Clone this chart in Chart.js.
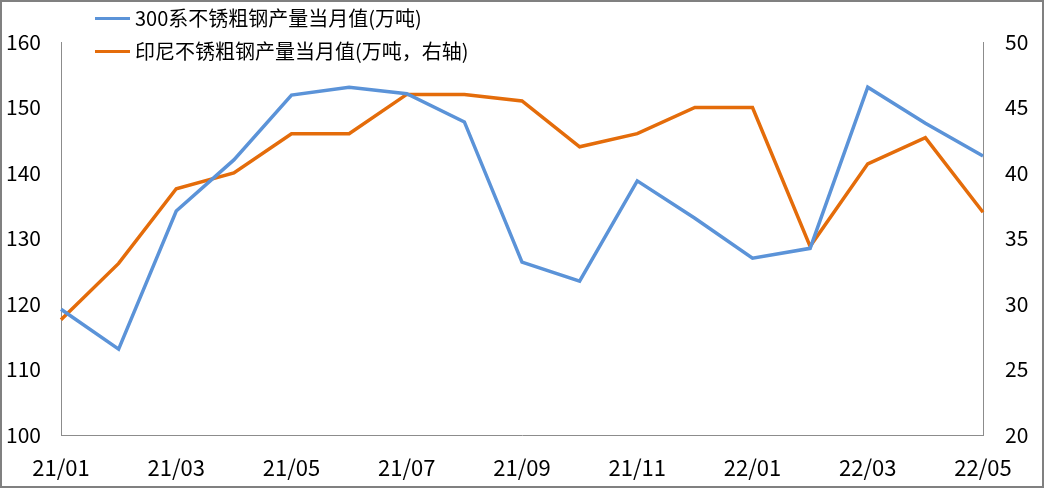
<!DOCTYPE html>
<html>
<head>
<meta charset="utf-8">
<script src="https://cdn.jsdelivr.net/npm/chart.js@4"></script>
<style>
  html, body { margin: 0; padding: 0; background: #fff; }
  #wrap { position: relative; width: 1044px; height: 488px; box-sizing: border-box; border: 2px solid #808080; background: #fff; }
  #c { position: absolute; left: 0; top: 0; }
  #legend { position: absolute; left: 93px; top: 0; font-family: "Noto Sans CJK SC", "Noto Sans", sans-serif; font-size: 20px; color: #000; }
  .item { position: absolute; white-space: nowrap; height: 30px; line-height: 30px; }
  .swatch { position: absolute; left: 0; top: 14px; width: 35px; height: 3px; }
  .txt { position: absolute; left: 40px; top: 0; }
</style>
</head>
<body>
<div id="wrap">
  <canvas id="c" width="1040" height="484"></canvas>
  <div id="legend"></div>
</div>
<script>
const categories = ["21/01","21/02","21/03","21/04","21/05","21/06","21/07","21/08","21/09","21/10","21/11","21/12","22/01","22/02","22/03","22/04","22/05"];
const series300Label = "300系不锈粗钢产量当月值(万吨)";
const series300 = [119.2, 113.1, 134.2, 142.0, 151.9, 153.1, 152.1, 147.8, 126.4, 123.5, 138.8, 133.1, 127.0, 128.5, 153.1, 147.6, 142.6];
const indonesiaLabel = "印尼不锈粗钢产量当月值(万吨，右轴)";
const indonesia = [28.8, 33.1, 38.8, 40.0, 43.0, 43.0, 46.0, 46.0, 45.5, 42.0, 43.0, 45.0, 45.0, 34.4, 40.7, 42.7, 37.0];
const leftTicks = [100, 110, 120, 130, 140, 150, 160];
const rightTicks = [20, 25, 30, 35, 40, 45, 50];

const blue = "#5B93D8";
const orange = "#E46C0A";
const axisColor = "#8c8c8c";
const fontFamily = '"Noto Sans CJK SC", "Noto Sans", sans-serif';

const datasets = [
  { label: series300Label, data: series300, borderColor: blue, backgroundColor: blue, yAxisID: "yL" },
  { label: indonesiaLabel, data: indonesia, borderColor: orange, backgroundColor: orange, yAxisID: "yR" }
];

// HTML legend built from the dataset labels
const legendEl = document.getElementById("legend");
datasets.forEach((ds, i) => {
  const it = document.createElement("div");
  it.className = "item";
  it.style.top = (i === 0 ? 1 : 34) + "px";
  const sw = document.createElement("div");
  sw.className = "swatch";
  sw.style.background = ds.borderColor;
  const tx = document.createElement("span");
  tx.className = "txt";
  tx.textContent = ds.label;
  it.appendChild(sw); it.appendChild(tx);
  legendEl.appendChild(it);
});

new Chart(document.getElementById("c"), {
  type: "line",
  data: {
    labels: categories,
    datasets: datasets.map(d => Object.assign({}, d, {
      borderWidth: 3.5, pointRadius: 0, pointHoverRadius: 0, tension: 0, fill: false
    }))
  },
  options: {
    responsive: false,
    animation: false,
    devicePixelRatio: 1,
    layout: { padding: { top: 40, left: 0, right: 0, bottom: 0 } },
    plugins: { legend: { display: false }, tooltip: { enabled: false } },
    scales: {
      x: {
        offset: false,
        grid: { display: false, drawTicks: false },
        border: { display: true, color: axisColor, width: 1 },
        ticks: {
          autoSkip: false, maxRotation: 0, minRotation: 0, padding: 19,
          color: "#000", font: { family: fontFamily, size: 22 },
          callback: function(v, i) { return i % 2 === 0 ? categories[i] : ""; }
        },
        afterFit: s => { s.height = 51; }
      },
      yL: {
        position: "left", min: 100, max: 160,
        grid: { display: false, drawTicks: false },
        border: { display: true, color: axisColor, width: 1 },
        afterBuildTicks: s => { s.ticks = leftTicks.map(v => ({ value: v })); },
        ticks: { padding: 20, color: "#000", font: { family: fontFamily, size: 21 } },
        afterFit: s => { s.width = 59; }
      },
      yR: {
        position: "right", min: 20, max: 50,
        grid: { display: false, drawTicks: false },
        border: { display: true, color: axisColor, width: 1 },
        afterBuildTicks: s => { s.ticks = rightTicks.map(v => ({ value: v })); },
        ticks: { padding: 22, color: "#000", font: { family: fontFamily, size: 21 } },
        afterFit: s => { s.width = 59; }
      }
    }
  }
});
</script>
</body>
</html>
